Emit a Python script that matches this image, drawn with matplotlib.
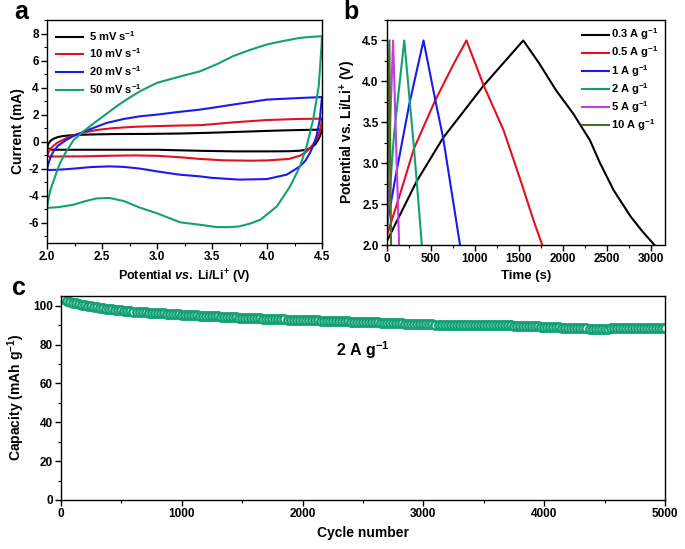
import numpy as np
import matplotlib
matplotlib.use("Agg")
import matplotlib.pyplot as plt
from matplotlib.ticker import MultipleLocator

plt.rcParams['font.family'] = ['Liberation Sans', 'DejaVu Sans']
plt.rcParams['font.weight'] = 'bold'
plt.rcParams['axes.labelweight'] = 'bold'
plt.rcParams['mathtext.fontset'] = 'custom'
plt.rcParams['mathtext.rm'] = 'Liberation Sans:bold'
plt.rcParams['mathtext.bf'] = 'Liberation Sans:bold'
plt.rcParams['mathtext.it'] = 'Liberation Sans:bold:italic'
plt.rcParams['mathtext.default'] = 'bf'
plt.rcParams['axes.unicode_minus'] = False

# ---------------- Panel a: CV data ----------------
cv_labels = ["5 mV s$^{-1}$", "10 mV s$^{-1}$", "20 mV s$^{-1}$", "50 mV s$^{-1}$"]
cv_colors = ["#000000", "#e3101e", "#1a1aef", "#13a070"]

v5_up = [2.0, 2.01, 2.03, 2.06, 2.1, 2.15, 2.25, 2.4, 2.6, 2.9, 3.2, 3.5, 3.8, 4.1, 4.3, 4.5]
i5_up = [-0.47, -0.2, 0.05, 0.22, 0.34, 0.42, 0.49, 0.53, 0.56, 0.57, 0.6, 0.66, 0.74, 0.82, 0.86, 0.89]
v5_dn = [4.5, 4.49, 4.47, 4.44, 4.4, 4.36, 4.3, 4.2, 4.0, 3.7, 3.4, 3.0, 2.6, 2.2, 2.05, 2.0]
i5_dn = [0.89, 0.6, 0.2, -0.2, -0.45, -0.6, -0.67, -0.71, -0.72, -0.72, -0.68, -0.6, -0.6, -0.6, -0.6, -0.47]

v10_up = [2.0, 2.01, 2.03, 2.06, 2.1, 2.18, 2.25, 2.33, 2.45, 2.6, 2.8, 3.0, 3.2, 3.4, 3.7, 4.0, 4.3, 4.5]
i10_up = [-1.1, -0.85, -0.55, -0.3, -0.05, 0.27, 0.5, 0.67, 0.86, 1.0, 1.1, 1.15, 1.19, 1.22, 1.43, 1.6, 1.68, 1.7]
v10_dn = [4.5, 4.49, 4.47, 4.45, 4.42, 4.39, 4.35, 4.3, 4.2, 4.0, 3.85, 3.6, 3.39, 3.2, 3.0, 2.8, 2.6, 2.3, 2.1, 2.0]
i10_dn = [1.7, 1.1, 0.5, 0.15, -0.2, -0.47, -0.8, -1.04, -1.28, -1.39, -1.41, -1.38, -1.28, -1.15, -1.05, -1.02, -1.04, -1.09, -1.1, -1.1]

v20_up = [2.0, 2.01, 2.03, 2.06, 2.1, 2.18, 2.25, 2.33, 2.45, 2.54, 2.7, 2.85, 3.0, 3.2, 3.39, 3.5, 3.69, 4.0, 4.3, 4.5]
i20_up = [-2.1, -1.7, -1.2, -0.7, -0.3, 0.15, 0.45, 0.72, 1.1, 1.38, 1.68, 1.88, 2.0, 2.2, 2.37, 2.5, 2.74, 3.11, 3.23, 3.3]
v20_dn = [4.5, 4.49, 4.48, 4.45, 4.42, 4.39, 4.35, 4.3, 4.18, 4.0, 3.75, 3.5, 3.39, 3.2, 3.0, 2.85, 2.7, 2.57, 2.4, 2.24, 2.1, 2.0]
i20_dn = [3.3, 2.5, 1.63, 0.4, -0.3, -0.84, -1.4, -1.83, -2.44, -2.77, -2.81, -2.68, -2.57, -2.44, -2.2, -2.0, -1.87, -1.83, -1.88, -2.0, -2.08, -2.1]

v50_up = [2.0, 2.01, 2.03, 2.06, 2.09, 2.12, 2.17, 2.24, 2.33, 2.44, 2.54, 2.63, 2.72, 2.85, 3.0, 3.2, 3.39, 3.55, 3.69, 3.85, 4.0, 4.15, 4.3, 4.4, 4.5]
i50_up = [-4.9, -4.4, -3.6, -2.9, -2.2, -1.56, -0.8, 0.1, 0.75, 1.45, 2.05, 2.6, 3.1, 3.75, 4.35, 4.8, 5.2, 5.75, 6.32, 6.8, 7.19, 7.45, 7.68, 7.75, 7.8]
v50_dn = [4.5, 4.495, 4.485, 4.47, 4.42, 4.36, 4.3, 4.21, 4.09, 3.94, 3.85, 3.75, 3.65, 3.54, 3.39, 3.21, 3.0, 2.85, 2.7, 2.57, 2.45, 2.35, 2.24, 2.1, 2.0]
i50_dn = [7.8, 7.0, 5.8, 4.1, 1.63, -0.35, -1.83, -3.31, -4.79, -5.78, -6.05, -6.27, -6.33, -6.32, -6.15, -5.97, -5.3, -4.9, -4.4, -4.17, -4.2, -4.4, -4.67, -4.85, -4.9]

cv_data = [(v5_up, i5_up, v5_dn, i5_dn), (v10_up, i10_up, v10_dn, i10_dn),
           (v20_up, i20_up, v20_dn, i20_dn), (v50_up, i50_up, v50_dn, i50_dn)]

# ---------------- Panel b: GCD data ----------------
gcd_labels = ["0.3 A g$^{-1}$", "0.5 A g$^{-1}$", "1 A g$^{-1}$", "2 A g$^{-1}$", "5 A g$^{-1}$", "10 A g$^{-1}$"]
gcd_colors = ["#000000", "#e3101e", "#1a1aef", "#13a070", "#c03ce6", "#4f6b2a"]

t03 = [0, 338, 638, 1099, 1549, 1730, 1922, 2114, 2307, 2422, 2576, 2768, 2900, 3040]
u03 = [2.05, 2.78, 3.31, 3.95, 4.5, 4.22, 3.89, 3.61, 3.28, 3.0, 2.67, 2.35, 2.17, 2.0]
t05 = [0, 145, 307, 549, 761, 903, 1099, 1326, 1518, 1672, 1765]
u05 = [2.12, 2.61, 3.18, 3.77, 4.22, 4.5, 3.95, 3.40, 2.79, 2.28, 2.0]
t1 = [0, 100, 253, 415, 549, 638, 830]
u1 = [2.25, 2.85, 3.72, 4.5, 3.77, 3.31, 2.0]
t2 = [0, 80, 196, 307, 338, 396]
u2 = [2.2, 3.35, 4.5, 3.18, 2.78, 2.0]
t5 = [0, 30, 69, 138]
u5 = [2.15, 3.3, 4.5, 2.0]
t10 = [0, 12, 27, 46]
u10 = [2.1, 3.3, 4.5, 2.0]
gcd_data = [(t03, u03), (t05, u05), (t1, u1), (t2, u2), (t5, u5), (t10, u10)]

# ---------------- Panel c: cycling data ----------------
cycles = np.arange(0, 5001, 25)
capacity = [
    104.0, 103.2, 102.6, 102.1, 101.6, 101.2, 100.8, 100.5, 100.2,
    99.9, 99.6, 99.4, 99.1, 98.9, 98.7, 98.5, 98.3, 98.1, 97.9, 97.7, 97.6,
    97.4, 97.3, 97.2, 97.0, 96.9, 96.8, 96.7, 96.6, 96.5, 96.4, 96.3, 96.2, 96.1, 96.0, 95.9, 95.8, 95.7, 95.6, 95.5, 95.4,
    95.3, 95.3, 95.2, 95.1, 95.0, 94.9, 94.9, 94.8, 94.7, 94.6, 94.5, 94.5, 94.4, 94.3, 94.2, 94.2, 94.1, 94.0, 93.9, 93.9,
    93.8, 93.7, 93.7, 93.6, 93.5, 93.5, 93.4, 93.3, 93.3, 93.2, 93.1, 93.1, 93.0, 93.0, 92.9, 92.8, 92.8, 92.7, 92.7, 92.6,
    92.6, 92.5, 92.5, 92.4, 92.4, 92.3, 92.3, 92.2, 92.2, 92.1, 92.1, 92.0, 92.0, 91.9, 91.9, 91.8, 91.8, 91.7, 91.7, 91.6,
    91.6, 91.5, 91.5, 91.4, 91.4, 91.3, 91.2, 91.1, 91.1, 91.0, 91.0, 90.9, 90.9, 90.8, 90.8, 90.7, 90.7, 90.6, 90.6, 90.5,
    90.5, 90.4, 90.4, 90.3, 90.3, 90.3, 90.2, 90.2, 90.2, 90.2, 90.2, 90.2, 90.3, 90.3, 90.3, 90.3, 90.3, 90.3, 90.2, 90.2,
    90.2, 90.2, 90.1, 90.1, 90.0, 90.0, 90.0, 89.9, 89.9, 89.8, 89.8, 89.7, 89.7, 89.6, 89.6, 89.5, 89.5, 89.4, 89.3, 89.2,
    89.1, 89.0, 88.9, 88.9, 88.8, 88.7, 88.7, 88.6, 88.5, 88.5, 88.4, 88.4, 88.3, 88.3, 88.2, 88.2, 88.2, 88.1, 88.1, 88.0,
    88.0, 88.7, 88.7, 88.7, 88.6, 88.6, 88.6, 88.6, 88.5, 88.5, 88.5, 88.5, 88.4, 88.4, 88.4, 88.4, 88.3, 88.3, 88.3, 88.3,
]
cyc_color = "#14a075"

W, H = 685, 549
fig = plt.figure(figsize=(W / 100, H / 100), dpi=100)


def box(l, r, t, b):
    return [l / W, 1 - b / H, (r - l) / W, (b - t) / H]


def style(ax):
    for s in ax.spines.values():
        s.set_linewidth(1.0)
    ax.tick_params(which='major', direction='out', length=4, width=1, labelsize=8.5, pad=2,
                   top=False, right=False)
    ax.tick_params(which='minor', direction='out', length=2.5, width=0.8, top=False, right=False)
    for lab in ax.get_xticklabels() + ax.get_yticklabels():
        lab.set_fontweight('bold')


# Panel a
axa = fig.add_axes(box(47, 322, 20, 243))
for (vu, iu, vd, idn), c, lab in zip(cv_data, cv_colors, cv_labels):
    axa.plot(list(vu) + list(vd), list(iu) + list(idn), color=c, lw=1.5, label=lab)
axa.set_xlim(2.0, 4.5)
axa.set_ylim(-7.5, 9.0)
axa.xaxis.set_major_locator(MultipleLocator(0.5))
axa.xaxis.set_minor_locator(MultipleLocator(0.25))
axa.yaxis.set_major_locator(MultipleLocator(2))
axa.yaxis.set_minor_locator(MultipleLocator(1))
axa.set_xticks([2.0, 2.5, 3.0, 3.5, 4.0, 4.5])
axa.set_xticklabels(["2.0", "2.5", "3.0", "3.5", "4.0", "4.5"])
style(axa)
axa.set_xlabel(r"Potential $\mathit{vs.}$ Li/Li$^{+}$ (V)", fontsize=9, labelpad=3)
axa.set_ylabel("Current (mA)", fontsize=10, labelpad=2)
axa.legend(loc='upper left', frameon=False, fontsize=8, handlelength=2.4,
           labelspacing=0.35, borderaxespad=0.4, handletextpad=0.6)
fig.text(21 / W, 1 - 12 / H, "a", fontsize=18, fontweight='bold', ha='center', va='center')

# Panel b
axb = fig.add_axes(box(387, 665, 20, 245))
for (tt, uu), c, lab in zip(gcd_data, gcd_colors, gcd_labels):
    axb.plot(tt, uu, color=c, lw=1.5, label=lab)
axb.set_xlim(0, 3160)
axb.set_ylim(2.0, 4.75)
axb.xaxis.set_major_locator(MultipleLocator(500))
axb.xaxis.set_minor_locator(MultipleLocator(250))
axb.yaxis.set_major_locator(MultipleLocator(0.5))
axb.yaxis.set_minor_locator(MultipleLocator(0.25))
style(axb)
axb.set_xlabel("Time (s)", fontsize=9.5, labelpad=3)
axb.set_ylabel("Potential vs. Li/Li$^{+}$ (V)", fontsize=10, labelpad=3)
axb.legend(loc='upper right', frameon=False, fontsize=8, handlelength=2.4,
           labelspacing=0.2, borderaxespad=0.2, handletextpad=0.2)
fig.text(351 / W, 1 - 12 / H, "b", fontsize=18, fontweight='bold', ha='center', va='center')

# Panel c
axc = fig.add_axes(box(61, 665, 296, 500))
axc.plot(cycles, capacity, linestyle='none', marker='o', markersize=6,
         markerfacecolor='white', markeredgecolor=cyc_color, markeredgewidth=1.8)
axc.set_xlim(0, 5000)
axc.set_ylim(0, 105)
axc.xaxis.set_major_locator(MultipleLocator(1000))
axc.xaxis.set_minor_locator(MultipleLocator(500))
axc.yaxis.set_major_locator(MultipleLocator(20))
axc.yaxis.set_minor_locator(MultipleLocator(10))
style(axc)
axc.set_xlabel("Cycle number", fontsize=10, labelpad=4)
axc.set_ylabel("Capacity (mAh g$^{-1}$)", fontsize=10, labelpad=4)
axc.text(2500, 77, "2 A g$^{-1}$", fontsize=11.5, fontweight='bold', ha='center', va='center')
fig.text(19 / W, 1 - 288 / H, "c", fontsize=18, fontweight='bold', ha='center', va='center')

fig.savefig("out.png", dpi=100)
